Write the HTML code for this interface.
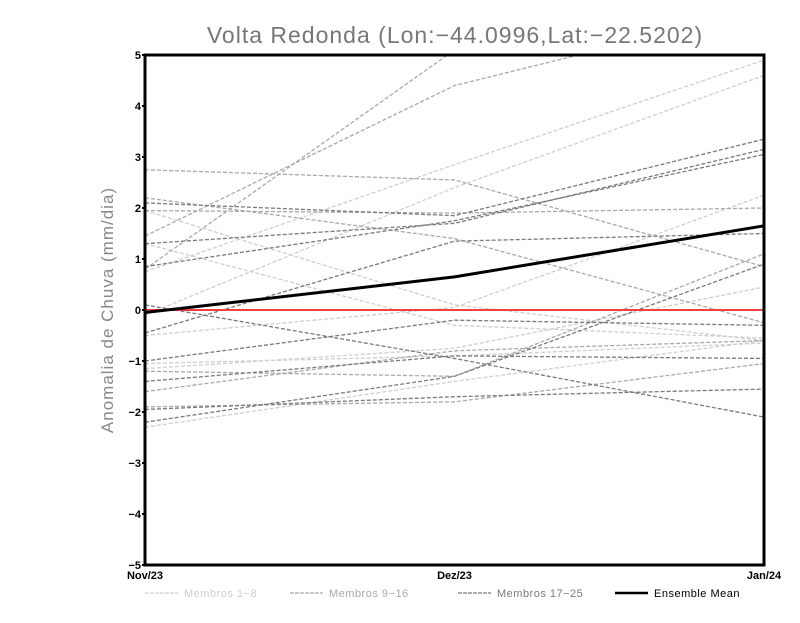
<!DOCTYPE html>
<html><head><meta charset="utf-8"><style>
body{margin:0;background:#fff;}
svg text{font-family:"Liberation Sans",sans-serif;}
</style></head><body>
<svg id="c" width="800" height="618" xmlns="http://www.w3.org/2000/svg">
<defs><clipPath id="pc"><rect x="145" y="55" width="619" height="510"/></clipPath></defs>
<text x="455" y="43" text-anchor="middle" font-size="23" fill="#777" letter-spacing="1">Volta Redonda (Lon:−44.0996,Lat:−22.5202)</text>
<text transform="translate(113,310) rotate(-90)" text-anchor="middle" font-size="17" fill="#888" letter-spacing="1">Anomalia de Chuva (mm/dia)</text>
<g id="series" clip-path="url(#pc)"></g>
<g id="axes"></g>
<g id="legend"></g>
</svg>
<script>
const categories=["Nov/23","Dez/23","Jan/24"];
const yTicks=[-5,-4,-3,-2,-1,0,1,2,3,4,5];
const members1to8=[[0.75,2.85,4.9],[-0.1,2.4,4.6],[1.95,0.1,-0.6],[1.3,-0.3,-0.55],[-1.15,-0.75,0.45],[-1.05,-0.9,-0.65],[-2.3,-1.4,-0.6],[-0.5,0.05,2.25]];
const members9to16=[[0.8,5.1,9.5],[1.45,4.4,5.9],[2.75,2.55,0.85],[2.2,1.4,-0.25],[1.95,1.9,2.0],[-1.2,-1.3,1.1],[-1.9,-1.8,-1.05],[-1.6,-0.8,-0.6]];
const members17to25=[[2.1,1.85,3.35],[1.3,1.7,3.15],[0.85,1.75,3.05],[-0.45,1.35,1.5],[0.1,-0.95,-2.1],[-1.0,-0.2,-0.3],[-1.4,-0.9,-0.95],[-1.95,-1.7,-1.55],[-2.2,-1.3,0.9]];
const ensembleMean=[-0.05,0.65,1.65];
const NS="http://www.w3.org/2000/svg";
const X0=145,X1=764,Y0=565,Y1=55;
function xs(i){return X0+(X1-X0)*i/(categories.length-1);}
function ys(v){return Y0-(v+5)/10*(Y0-Y1);}
function mk(t,a,p){const e=document.createElementNS(NS,t);for(const k in a)e.setAttribute(k,a[k]);p.appendChild(e);return e;}
const S=document.getElementById('series'),A=document.getElementById('axes'),L=document.getElementById('legend');
function pts(arr){return arr.map((v,i)=>xs(i)+","+ys(v)).join(" ");}
const groups=[[members1to8,"#cfcfcf","member-1-8-line"],[members9to16,"#a9a9a9","member-9-16-line"],[members17to25,"#7a7a7a","member-17-25-line"]];
groups.forEach(g=>g[0].forEach(m=>{
const p=mk('polyline',{points:pts(m),fill:"none",stroke:g[1],"stroke-width":1.3,"stroke-dasharray":"4,2"},S);


}));
const zl=mk('line',{x1:X0,x2:X1,y1:ys(0),y2:ys(0),stroke:"#f04040","stroke-width":2},S);


const em=mk('polyline',{points:pts(ensembleMean),fill:"none",stroke:"#000","stroke-width":3},S);


const fr=mk('rect',{x:X0,y:Y1,width:X1-X0,height:Y0-Y1,fill:"none",stroke:"#000","stroke-width":3},A);


yTicks.forEach(t=>{
const tl=mk('line',{x1:X0-3,x2:X0,y1:ys(t),y2:ys(t),stroke:"#000","stroke-width":2},A);


const tx=mk('text',{x:X0-4,y:ys(t)+4,"text-anchor":"end","font-size":11,"font-weight":"bold"},A);
tx.textContent=String(t).replace('-','−');


});
categories.forEach((c,i)=>{
const tx=mk('text',{x:xs(i),y:Y0+14,"text-anchor":"middle","font-size":11,"font-weight":"bold"},A);
tx.textContent=c;


});
const leg=[["Membros 1−8","#cfcfcf",145,1.3,"4,1"],["Membros 9−16","#a9a9a9",290,1.3,"4,1"],["Membros 17−25","#7a7a7a",458,1.3,"4,1"],["Ensemble Mean","#000",615,2.5,""]];
leg.forEach(l=>{
const ln=mk('line',{x1:l[2],x2:l[2]+33,y1:593,y2:593,stroke:l[1],"stroke-width":l[3],"stroke-dasharray":l[4]},L);


const tx=mk('text',{x:l[2]+39,y:597,"font-size":11,fill:l[1]==="#000"?"#000":l[1],"letter-spacing":"0.5"},L);
tx.textContent=l[0];


});
</script>
</body></html>
